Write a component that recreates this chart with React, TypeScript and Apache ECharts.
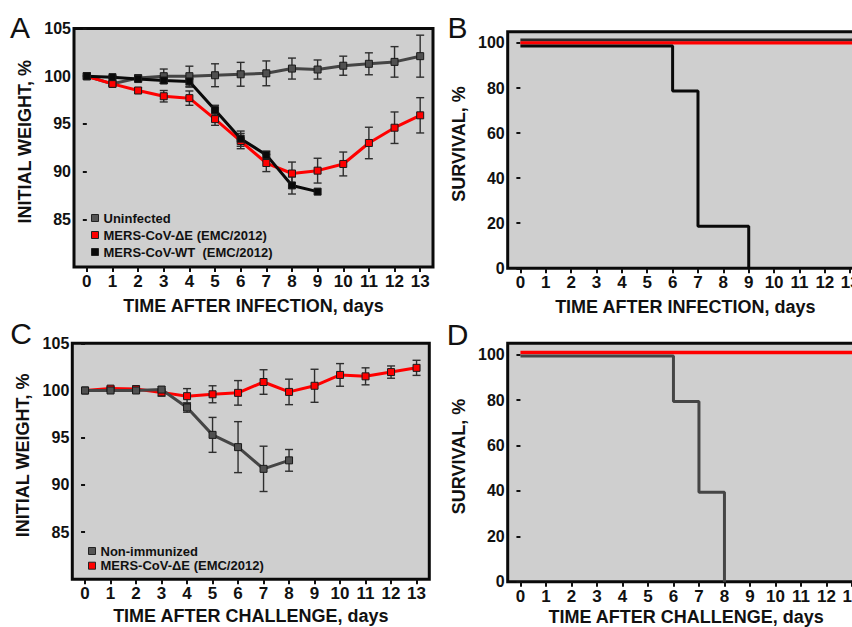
import React, { useEffect, useRef } from "react";
import * as echarts from "echarts";

const days = [0, 1, 2, 3, 4, 5, 6, 7, 8, 9, 10, 11, 12, 13];
const weightTicks = [85, 90, 95, 100, 105];
const survivalTicks = [0, 20, 40, 60, 80, 100];

// Panel A: weight after infection
const uninfA = [100, 99.2, 99.8, 100.0, 100.0, 100.1, 100.2, 100.3, 100.8, 100.7, 101.1, 101.3, 101.5, 102.1];
const uninfAErr = [0, 0.2, 0.3, 0.75, 1.05, 1.2, 1.25, 1.3, 1.1, 1.0, 1.0, 1.15, 1.6, 2.2];
const deltaA = [100, 99.2, 98.5, 97.9, 97.7, 95.5, 93.2, 90.9, 89.8, 90.1, 90.8, 93.0, 94.6, 95.9];
const deltaAErr = [0, 0.15, 0.3, 0.6, 0.75, 0.65, 0.8, 0.9, 1.2, 1.3, 1.25, 1.65, 1.65, 1.85];
const wtA = [100, 99.9, 99.7, 99.55, 99.45, 96.45, 93.45, 91.75, 88.55, 87.9];
const wtAErr = [0, 0.15, 0.2, 0.3, 0.6, 0.5, 0.8, 0.4, 0.9, 0];

// Panel B: survival after infection
const survLineDays = [0, 13.5];
const survBUninf = [101.3, 101.3];
const survBDelta = [100, 100];
const survBWtDays = [0, 6, 7, 9];
const survBWt = [98.7, 78.7, 18.7, 0];

// Panel C: weight after challenge
const nonImmC = [100, 100, 100, 100.1, 98.2, 95.3, 94.0, 91.7, 92.6];
const nonImmCErr = [0, 0.1, 0.2, 0.3, 0.5, 1.85, 2.7, 2.4, 1.15];
const deltaC = [100, 100.2, 100.15, 99.8, 99.4, 99.6, 99.75, 100.9, 99.85, 100.5, 101.65, 101.5, 101.95, 102.4];
const deltaCErr = [0, 0.2, 0.3, 0.4, 0.8, 0.9, 1.3, 1.3, 1.35, 1.75, 1.2, 0.9, 0.65, 0.8];

// Panel D: survival after challenge
const survDDelta = [101, 101];
const survDNonDays = [0, 6, 7, 8];
const survDNon = [99.4, 79.4, 39.4, 0];

const FONT = "'Liberation Sans', Arial, Helvetica, sans-serif";
const GRAY = "#454545";
const RED = "#ff0000";
const BLACK = "#0a0a0a";
const BG = "#cfcfcf";

function pairs(xs: number[], ys: number[]) {
  return ys.map((y, i) => [xs[i], y]);
}
function errData(vals: number[], errs: number[]) {
  return vals
    .map((v, i) => [days[i], v - errs[i], v + errs[i], errs[i]])
    .filter((d) => d[3] > 0);
}

const errRender = (params: any, api: any) => {
  const x = api.value(0);
  const lo = api.coord([x, api.value(1)]);
  const hi = api.coord([x, api.value(2)]);
  const hw = 4;
  const st = { stroke: "#2e2e2e", lineWidth: 1.4 };
  return {
    type: "group",
    children: [
      { type: "line", shape: { x1: lo[0], y1: lo[1], x2: hi[0], y2: hi[1] }, style: st },
      { type: "line", shape: { x1: lo[0] - hw, y1: lo[1], x2: lo[0] + hw, y2: lo[1] }, style: st },
      { type: "line", shape: { x1: hi[0] - hw, y1: hi[1], x2: hi[0] + hw, y2: hi[1] }, style: st },
    ],
  };
};

function errSeries(idx: number, vals: number[], errs: number[]) {
  return {
    type: "custom",
    xAxisIndex: idx,
    yAxisIndex: idx,
    renderItem: errRender,
    encode: { x: 0, y: [1, 2] },
    data: errData(vals, errs),
    z: 2,
    silent: true,
  };
}

function weightLine(idx: number, name: string, vals: number[], color: string, fill: string) {
  return {
    type: "line",
    name,
    xAxisIndex: idx,
    yAxisIndex: idx,
    data: pairs(days, vals),
    symbol: "rect",
    symbolSize: 7,
    lineStyle: { color, width: 3 },
    itemStyle: { color: fill, borderColor: "#1a1a1a", borderWidth: 1 },
    z: 3,
  };
}

function survLine(idx: number, name: string, xs: number[], ys: number[], color: string, width: number) {
  return {
    type: "line",
    name,
    xAxisIndex: idx,
    yAxisIndex: idx,
    data: pairs(xs, ys),
    step: "end",
    symbol: "none",
    lineStyle: { color, width },
    z: 3,
  };
}

const axisText = { color: "#111", fontWeight: "bold", fontFamily: FONT };

function xAxis(idx: number, name: string, gap: number) {
  return {
    type: "value",
    gridIndex: idx,
    min: -0.5,
    max: 13.5,
    name,
    nameLocation: "middle",
    nameGap: gap,
    nameTextStyle: { ...axisText, fontSize: 18 },
    axisLine: { show: false },
    axisTick: { show: true, customValues: days, length: 5, lineStyle: { color: "#111", width: 2 } },
    axisLabel: { ...axisText, fontSize: 17, margin: 6, customValues: days },
    splitLine: { show: false },
  };
}

function yAxis(idx: number, name: string, min: number, max: number, ticks: number[]) {
  return {
    type: "value",
    gridIndex: idx,
    min,
    max,
    name,
    nameLocation: "middle",
    nameGap: 40,
    nameTextStyle: { ...axisText, fontSize: 18, padding: [0, 0, 0, 12] },
    axisLine: { show: false },
    axisTick: { show: true, customValues: ticks, length: 4, lineStyle: { color: "#111", width: 2 } },
    axisLabel: { ...axisText, fontSize: 16, margin: 3, customValues: ticks },
    splitLine: { show: false },
  };
}

const gridBase = {
  show: true,
  backgroundColor: BG,
  borderColor: "#0a0a0a",
  borderWidth: 3,
  containLabel: false,
  outerBoundsMode: "none",
};

const legendBase = {
  orient: "vertical",
  icon: "rect",
  itemWidth: 7,
  itemHeight: 7,
  padding: 0,
  selectedMode: false,
  textStyle: { color: "#111", fontWeight: "bold", fontFamily: FONT, fontSize: 13 },
};

export default function App() {
  const ref = useRef<HTMLDivElement>(null);
  useEffect(() => {
    if (!ref.current) return;
    const chart = echarts.init(ref.current, undefined, { renderer: "svg" });
    const option: any = {
      animation: false,
      backgroundColor: "#ffffff",
      grid: [
        { ...gridBase, left: 74, top: 28.5, width: 359, height: 238.5 },
        { ...gridBase, left: 507.7, top: 31.7, width: 355.2, height: 236.6 },
        { ...gridBase, left: 72.3, top: 343.3, width: 357, height: 236 },
        { ...gridBase, left: 507.7, top: 343.3, width: 357, height: 238.4 },
      ],
      xAxis: [
        xAxis(0, "TIME AFTER INFECTION, days", 30),
        xAxis(1, "TIME AFTER INFECTION, days", 30),
        xAxis(2, "TIME AFTER CHALLENGE, days", 28),
        xAxis(3, "TIME AFTER CHALLENGE, days", 26),
      ],
      yAxis: [
        yAxis(0, "INITIAL WEIGHT, %", 80, 105, weightTicks),
        yAxis(1, "SURVIVAL, %", 0, 105, survivalTicks),
        yAxis(2, "INITIAL WEIGHT, %", 80, 105, weightTicks),
        yAxis(3, "SURVIVAL, %", 0, 105, survivalTicks),
      ],
      legend: [
        {
          ...legendBase,
          left: 91,
          top: 211,
          itemGap: 3,
          textStyle: { ...legendBase.textStyle, lineHeight: 14 },
          data: [
            { name: "Uninfected", itemStyle: { color: "#555", borderColor: "#222", borderWidth: 1 } },
            { name: "MERS-CoV-ΔE (EMC/2012)", itemStyle: { color: RED, borderColor: "#222", borderWidth: 1 } },
            { name: "MERS-CoV-WT  (EMC/2012)", itemStyle: { color: BLACK, borderColor: "#222", borderWidth: 1 } },
          ],
        },
        {
          ...legendBase,
          left: 88,
          top: 544.5,
          itemGap: 1.7,
          textStyle: { ...legendBase.textStyle, lineHeight: 13 },
          data: [
            { name: "Non-immunized", itemStyle: { color: "#555", borderColor: "#222", borderWidth: 1 } },
            { name: "MERS-CoV-ΔE (EMC/2012)", itemStyle: { color: RED, borderColor: "#222", borderWidth: 1 } },
          ],
        },
      ],
      graphic: [
        { type: "text", x: 20, y: 27, style: { text: "A", fontSize: 30, fontFamily: FONT, fill: "#111", align: "center", verticalAlign: "middle" } },
        { type: "text", x: 457.5, y: 27, style: { text: "B", fontSize: 30, fontFamily: FONT, fill: "#111", align: "center", verticalAlign: "middle" } },
        { type: "text", x: 21, y: 333.5, style: { text: "C", fontSize: 30, fontFamily: FONT, fill: "#111", align: "center", verticalAlign: "middle" } },
        { type: "text", x: 457.5, y: 334, style: { text: "D", fontSize: 30, fontFamily: FONT, fill: "#111", align: "center", verticalAlign: "middle" } },
      ],
      series: [
        errSeries(0, uninfA, uninfAErr),
        errSeries(0, deltaA, deltaAErr),
        errSeries(0, wtA, wtAErr),
        weightLine(0, "Uninfected", uninfA, GRAY, "#505050"),
        weightLine(0, "MERS-CoV-ΔE (EMC/2012)", deltaA, RED, RED),
        weightLine(0, "MERS-CoV-WT  (EMC/2012)", wtA, BLACK, BLACK),

        survLine(1, "Uninfected survival", survLineDays, survBUninf, "#2a2a2a", 3),
        survLine(1, "ΔE survival (infection)", survLineDays, survBDelta, RED, 3.2),
        survLine(1, "WT survival", survBWtDays, survBWt, BLACK, 3),

        errSeries(2, nonImmC, nonImmCErr),
        errSeries(2, deltaC, deltaCErr),
        weightLine(2, "MERS-CoV-ΔE (EMC/2012)", deltaC, RED, RED),
        weightLine(2, "Non-immunized", nonImmC, GRAY, "#505050"),

        survLine(3, "ΔE survival (challenge)", survLineDays, survDDelta, RED, 3.5),
        survLine(3, "Non-immunized survival", survDNonDays, survDNon, GRAY, 3),
      ],
    };
    chart.setOption(option);
    return () => chart.dispose();
  }, []);
  return (
    <div
      ref={ref}
      style={{ position: "absolute", left: 0, top: 0, width: 852, height: 627 }}
    />
  );
}
